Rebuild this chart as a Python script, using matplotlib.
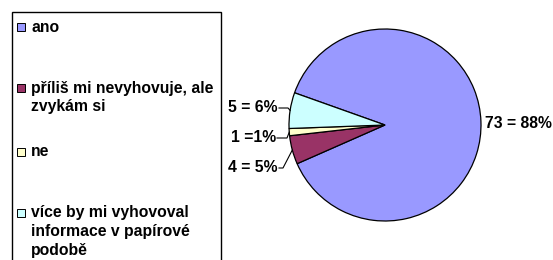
import matplotlib
matplotlib.use("Agg")
import matplotlib.pyplot as plt
import numpy as np
from matplotlib.patches import Rectangle

categories = ["ano", "příliš mi nevyhovuje, ale\nzvykám si", "ne",
              "více by mi vyhovoval\ninformace v papírové\npodobě"]
counts = [73, 4, 1, 5]
value_labels = ["73 = 88%", "4 = 5%", "1 =1%", "5 = 6%"]
colors = ["#9999FF", "#993366", "#FFFFCC", "#CCFFFF"]

W, H = 553, 260
DPI = 100
plt.rcParams['font.family'] = ['Liberation Sans', 'DejaVu Sans']
FS = 11.3

fig = plt.figure(figsize=(W / DPI, H / DPI), dpi=DPI)
fig.patch.set_facecolor("white")

# pie axes placed in pixel coordinates
cx, cy, R = 385, 125, 96
ax = fig.add_axes([(cx - R) / W, (H - cy - R) / H, 2 * R / W, 2 * R / H])

wedges, _ = ax.pie(counts, colors=colors, startangle=160.4, counterclock=False,
                   radius=1, wedgeprops=dict(edgecolor="black", linewidth=0.9))
ax.set_xlim(-1, 1)
ax.set_ylim(-1, 1)
ax.set_aspect("equal")
ax.axis("off")

def px2data(x, y):
    # x, y in image pixels (top-left origin)
    return ax.transData.inverted().transform(fig.transFigure.transform((x / W, (H - y) / H)))

# label layout: (text x, text y, ha, knee x) in image pixels
layout = {
    0: (485, 123, "left", None),
    1: (278, 168, "right", 283),
    2: (276, 138, "right", 287),
    3: (278, 108, "right", 288),
}
for i, w in enumerate(wedges):
    tx, ty, ha, kx = layout[i]
    fig.text(tx / W, (H - ty) / H, value_labels[i], ha=ha, va="center",
             fontsize=FS, fontweight="bold")
    if kx is not None:
        mid = np.deg2rad((w.theta1 + w.theta2) / 2)
        ex, ey = np.cos(mid), np.sin(mid)
        p0 = px2data(tx + 1, ty)
        p1 = px2data(kx, ty)
        ax.plot([p0[0], p1[0], ex], [p0[1], p1[1], ey], color="black", lw=0.8,
                clip_on=False)

# legend box drawn in figure pixels
fig.patches.append(Rectangle((12 / W, (H - 275) / H), (221 - 12) / W, (275 - 12) / H,
                             transform=fig.transFigure, facecolor="white",
                             edgecolor="black", linewidth=1.0, zorder=0))
entry_tops = [27, 88, 152, 213]
line_h = 18.5
for lab, col, ty in zip(categories, colors, entry_tops):
    fig.patches.append(Rectangle((17 / W, (H - ty - 4) / H), 8 / W, 8 / H,
                                 transform=fig.transFigure, facecolor=col,
                                 edgecolor="black", linewidth=0.7, zorder=2))
    for k, line in enumerate(lab.split("\n")):
        fig.text(31 / W, (H - ty - k * line_h) / H, line, ha="left", va="center",
                 fontsize=FS, fontweight="bold")

fig.savefig("out.png", dpi=DPI)
